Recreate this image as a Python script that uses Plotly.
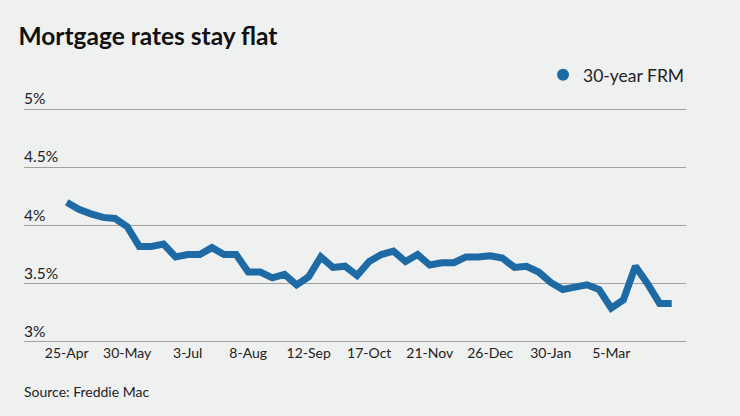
import plotly.graph_objects as go

weeks = ["25-Apr", "2-May", "9-May", "16-May", "23-May", "30-May", "6-Jun", "13-Jun", "20-Jun", "27-Jun",
         "3-Jul", "11-Jul", "18-Jul", "25-Jul", "1-Aug", "8-Aug", "15-Aug", "22-Aug", "29-Aug", "5-Sep",
         "12-Sep", "19-Sep", "26-Sep", "3-Oct", "10-Oct", "17-Oct", "24-Oct", "31-Oct", "7-Nov", "14-Nov",
         "21-Nov", "27-Nov", "5-Dec", "12-Dec", "19-Dec", "26-Dec", "2-Jan", "9-Jan", "16-Jan", "23-Jan",
         "30-Jan", "6-Feb", "13-Feb", "20-Feb", "27-Feb", "5-Mar", "12-Mar", "19-Mar", "26-Mar", "2-Apr", "9-Apr"]
rate_30yr = [4.20, 4.14, 4.10, 4.07, 4.06, 3.99, 3.82, 3.82, 3.84, 3.73,
             3.75, 3.75, 3.81, 3.75, 3.75, 3.60, 3.60, 3.55, 3.58, 3.49,
             3.56, 3.73, 3.64, 3.65, 3.57, 3.69, 3.75, 3.78, 3.69, 3.75,
             3.66, 3.68, 3.68, 3.73, 3.73, 3.74, 3.72, 3.64, 3.65, 3.60,
             3.51, 3.45, 3.47, 3.49, 3.45, 3.29, 3.36, 3.65, 3.50, 3.33, 3.33]
tick_labels = ["25-Apr", "30-May", "3-Jul", "8-Aug", "12-Sep", "17-Oct", "21-Nov", "26-Dec", "30-Jan", "5-Mar"]
y_ticks = [3, 3.5, 4, 4.5, 5]
y_tick_text = ["3%", "3.5%", "4%", "4.5%", "5%"]

COLOR = "#1d6aa5"
BG = "#eff0f0"
FONT = "Lato"
TXT = "#222222"

fig = go.Figure()
fig.add_trace(go.Scatter(x=weeks, y=rate_30yr, mode="lines",
                         line=dict(color=COLOR, width=7), showlegend=False,
                         hoverinfo="skip"))
fig.add_trace(go.Scatter(x=[None], y=[None], mode="markers", name="30-year FRM",
                         marker=dict(color=COLOR, size=12), showlegend=True))

annotations = [dict(text=t, xref="paper", yref="y", x=0, y=v, xanchor="left", yanchor="bottom",
                    xshift=-2, yshift=0, showarrow=False, font=dict(size=15.5, color=TXT))
               for v, t in zip(y_ticks, y_tick_text)]
annotations.append(dict(text="Source: Freddie Mac", xref="paper", yref="paper", x=0, y=-0.205,
                        xanchor="left", yanchor="middle", xshift=-2, showarrow=False,
                        font=dict(size=14, color=TXT)))

fig.update_layout(
    width=740, height=416,
    paper_bgcolor=BG, plot_bgcolor=BG,
    margin=dict(l=24, r=54, t=108, b=73),
    font=dict(family=FONT, color=TXT, size=15),
    title=dict(text="<b>Mortgage rates stay flat</b>", xref="container", x=0.025, xanchor="left",
               yref="container", y=0.913, yanchor="middle",
               font=dict(family=FONT, size=24.5, color="#111111")),
    xaxis=dict(type="category", range=[-3.53, 51.18], showgrid=False, zeroline=False,
               showline=False, ticks="", tickmode="array", tickvals=tick_labels,
               ticktext=tick_labels, tickfont=dict(size=14, color=TXT),
               fixedrange=True),
    yaxis=dict(range=[2.99, 5.01], tickvals=y_ticks, showticklabels=False,
               showgrid=True, gridcolor="#a0a0a0", gridwidth=1.3, zeroline=False,
               showline=False, ticks="", fixedrange=True),
    legend=dict(orientation="h", x=0.784, xanchor="left", y=1.141, yanchor="middle",
                bgcolor="rgba(0,0,0,0)", font=dict(size=17.5, color=TXT)),
    annotations=annotations,
)

fig.write_html("out.html", config={"displayModeBar": False},
               post_script="document.body.style.margin='0';")
